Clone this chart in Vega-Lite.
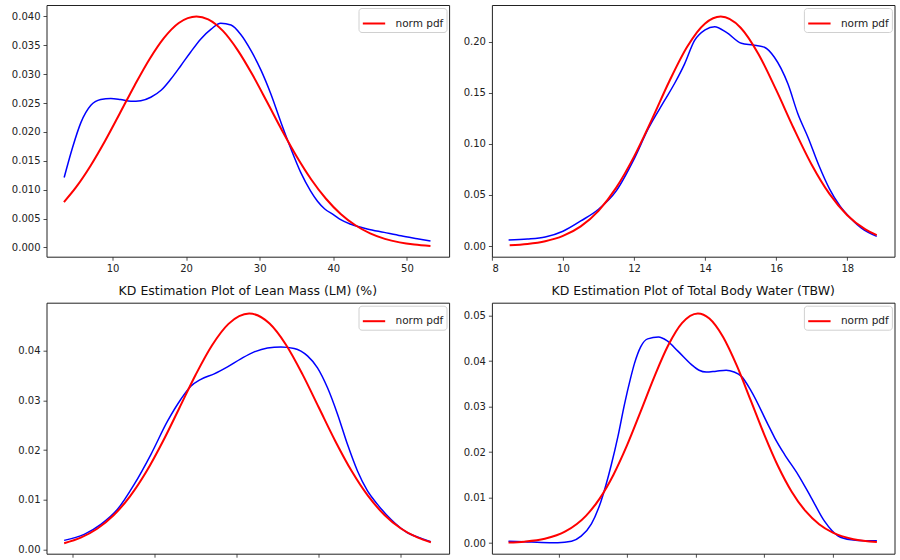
{
  "$schema": "https://vega.github.io/schema/vega-lite/v6.json",
  "padding": {"left": 10.5, "top": 4, "right": 0, "bottom": 0},
  "background": "white",
  "config": {
    "font": "DejaVu Sans",
    "view": {"stroke": "#222", "strokeWidth": 1},
    "axis": {
      "grid": false, "domain": false,
      "tickSize": 3.5, "tickColor": "#222", "tickWidth": 0.8,
      "labelFont": "DejaVu Sans", "labelFontSize": 10, "labelColor": "#222", "labelPadding": 3
    },
    "legend": {
      "orient": "top-right", "offset": 3, "padding": 3,
      "strokeColor": "#d0d0d0", "fillColor": "white", "cornerRadius": 3,
      "symbolType": "stroke", "symbolStrokeWidth": 2, "symbolSize": 500,
      "labelFont": "DejaVu Sans", "labelFontSize": 10.5, "labelColor": "#222", "labelOffset": 9
    },
    "title": {"font": "DejaVu Sans", "fontSize": 12.5, "fontWeight": "normal", "color": "#111", "offset": 5, "anchor": "middle"}
  },
  "datasets": {
    "tl_kde": [
      {"x": 3.43, "y": 0.0121}, {"x": 4.57, "y": 0.0173}, {"x": 5.7, "y": 0.0216}, {"x": 7.06, "y": 0.0246},
      {"x": 8.4, "y": 0.0256}, {"x": 9.77, "y": 0.0258}, {"x": 11.1, "y": 0.0256}, {"x": 12.5, "y": 0.0253},
      {"x": 13.85, "y": 0.0254}, {"x": 15.2, "y": 0.026}, {"x": 16.6, "y": 0.0272}, {"x": 17.9, "y": 0.0291},
      {"x": 19.3, "y": 0.0315}, {"x": 20.6, "y": 0.0338}, {"x": 22.0, "y": 0.0361}, {"x": 23.4, "y": 0.0378},
      {"x": 24.7, "y": 0.0388}, {"x": 26.1, "y": 0.0385}, {"x": 27.4, "y": 0.0369}, {"x": 28.8, "y": 0.0341},
      {"x": 30.2, "y": 0.0306}, {"x": 31.5, "y": 0.0266}, {"x": 32.9, "y": 0.0216}, {"x": 34.2, "y": 0.0172},
      {"x": 35.6, "y": 0.0129}, {"x": 36.9, "y": 0.0098}, {"x": 37.85, "y": 0.008}, {"x": 38.8, "y": 0.0067},
      {"x": 40.1, "y": 0.0056}, {"x": 41.0, "y": 0.0048}, {"x": 42.4, "y": 0.004}, {"x": 44.6, "y": 0.0032},
      {"x": 46.9, "y": 0.0026}, {"x": 49.2, "y": 0.002}, {"x": 51.4, "y": 0.0015}, {"x": 53.2, "y": 0.0011}
    ],
    "tl_norm": [
      {"x": 3.4, "y": 0.00785}, {"x": 5, "y": 0.01034}, {"x": 7, "y": 0.0141}, {"x": 9, "y": 0.01846},
      {"x": 11, "y": 0.02322}, {"x": 13, "y": 0.02805}, {"x": 15, "y": 0.03255}, {"x": 17, "y": 0.03629},
      {"x": 19, "y": 0.03886}, {"x": 21.4, "y": 0.04}, {"x": 23, "y": 0.03949}, {"x": 25, "y": 0.03748},
      {"x": 27, "y": 0.03416}, {"x": 29, "y": 0.02992}, {"x": 31, "y": 0.02516}, {"x": 33, "y": 0.02033},
      {"x": 35, "y": 0.01578}, {"x": 37, "y": 0.01176}, {"x": 39, "y": 0.00842}, {"x": 41, "y": 0.00579},
      {"x": 43, "y": 0.00383}, {"x": 45, "y": 0.00243}, {"x": 47, "y": 0.00148}, {"x": 49, "y": 0.00087},
      {"x": 51, "y": 0.00049}, {"x": 53.2, "y": 0.00025}
    ],
    "tr_kde": [
      {"x": 8.47, "y": 0.0059}, {"x": 9.0, "y": 0.0068}, {"x": 9.5, "y": 0.0088}, {"x": 10.0, "y": 0.0145},
      {"x": 10.5, "y": 0.0245}, {"x": 11.0, "y": 0.036}, {"x": 11.5, "y": 0.054}, {"x": 12.0, "y": 0.085},
      {"x": 12.4, "y": 0.1148}, {"x": 12.86, "y": 0.1424}, {"x": 13.14, "y": 0.159}, {"x": 13.42, "y": 0.178},
      {"x": 13.7, "y": 0.201}, {"x": 14.0, "y": 0.2115}, {"x": 14.27, "y": 0.2146}, {"x": 14.6, "y": 0.209},
      {"x": 15.02, "y": 0.1984}, {"x": 15.35, "y": 0.1967}, {"x": 15.67, "y": 0.1945}, {"x": 15.95, "y": 0.1847},
      {"x": 16.33, "y": 0.1587}, {"x": 16.61, "y": 0.1294}, {"x": 16.9, "y": 0.106}, {"x": 17.2, "y": 0.079},
      {"x": 17.5, "y": 0.056}, {"x": 17.8, "y": 0.039}, {"x": 18.1, "y": 0.027}, {"x": 18.4, "y": 0.0175},
      {"x": 18.83, "y": 0.0095}
    ],
    "tr_norm": [
      {"x": 8.5, "y": 0.00084}, {"x": 9, "y": 0.00207}, {"x": 9.5, "y": 0.00471}, {"x": 10, "y": 0.0099},
      {"x": 10.5, "y": 0.01922}, {"x": 11, "y": 0.03446}, {"x": 11.5, "y": 0.05716}, {"x": 12, "y": 0.08747},
      {"x": 12.5, "y": 0.1237}, {"x": 13, "y": 0.1617}, {"x": 13.5, "y": 0.1952}, {"x": 14, "y": 0.2177},
      {"x": 14.44, "y": 0.2245}, {"x": 15, "y": 0.2136}, {"x": 15.5, "y": 0.1879}, {"x": 16, "y": 0.1527},
      {"x": 16.5, "y": 0.1147}, {"x": 17, "y": 0.07956}, {"x": 17.5, "y": 0.05098}, {"x": 18, "y": 0.03019},
      {"x": 18.5, "y": 0.01652}, {"x": 18.83, "y": 0.01062}
    ],
    "bl_kde": [
      {"x": 48.98, "y": 0.00187}, {"x": 51.42, "y": 0.00308}, {"x": 53.45, "y": 0.00508}, {"x": 55.48, "y": 0.0081},
      {"x": 57.51, "y": 0.0131}, {"x": 59.54, "y": 0.0191}, {"x": 61.57, "y": 0.0258}, {"x": 63.2, "y": 0.0302},
      {"x": 64.41, "y": 0.0328}, {"x": 65.63, "y": 0.0342}, {"x": 67.26, "y": 0.0353}, {"x": 68.88, "y": 0.0367},
      {"x": 70.5, "y": 0.0383}, {"x": 72.13, "y": 0.0397}, {"x": 73.75, "y": 0.0405}, {"x": 75.38, "y": 0.0407},
      {"x": 77.0, "y": 0.0404}, {"x": 78.62, "y": 0.0389}, {"x": 79.84, "y": 0.0365}, {"x": 81.06, "y": 0.0325},
      {"x": 82.28, "y": 0.0272}, {"x": 83.5, "y": 0.0211}, {"x": 84.71, "y": 0.0158}, {"x": 85.93, "y": 0.0118},
      {"x": 87.15, "y": 0.0091}, {"x": 88.77, "y": 0.0061}, {"x": 90.8, "y": 0.0034}, {"x": 92.43, "y": 0.0023},
      {"x": 93.65, "y": 0.0016}
    ],
    "bl_norm": [
      {"x": 48.98, "y": 0.00131}, {"x": 51, "y": 0.00243}, {"x": 53, "y": 0.00421}, {"x": 55, "y": 0.00691},
      {"x": 57, "y": 0.0107}, {"x": 59, "y": 0.01568}, {"x": 61, "y": 0.02171}, {"x": 63, "y": 0.02839},
      {"x": 65, "y": 0.03511}, {"x": 67, "y": 0.04103}, {"x": 69, "y": 0.04532}, {"x": 71.52, "y": 0.0474},
      {"x": 74, "y": 0.04539}, {"x": 76, "y": 0.04114}, {"x": 78, "y": 0.03524}, {"x": 80, "y": 0.02853},
      {"x": 82, "y": 0.02183}, {"x": 84, "y": 0.01579}, {"x": 86, "y": 0.01079}, {"x": 88, "y": 0.00697},
      {"x": 90, "y": 0.00426}, {"x": 92, "y": 0.00246}, {"x": 93.65, "y": 0.0015}
    ],
    "br_kde": [
      {"x": 22.71, "y": 0.0004}, {"x": 25.0, "y": 0.0003}, {"x": 27.5, "y": 0.00012}, {"x": 29.9, "y": 0.00008},
      {"x": 31.9, "y": 0.0004}, {"x": 33.3, "y": 0.0015}, {"x": 34.8, "y": 0.0042}, {"x": 36.2, "y": 0.0092},
      {"x": 37.7, "y": 0.0172}, {"x": 38.66, "y": 0.0234}, {"x": 39.62, "y": 0.0305}, {"x": 40.5, "y": 0.0362},
      {"x": 41.08, "y": 0.0395}, {"x": 42.0, "y": 0.0432}, {"x": 43.0, "y": 0.0449}, {"x": 44.58, "y": 0.0453},
      {"x": 45.8, "y": 0.0445}, {"x": 47.41, "y": 0.0422}, {"x": 49.35, "y": 0.0393}, {"x": 50.5, "y": 0.038},
      {"x": 51.54, "y": 0.0376}, {"x": 53.0, "y": 0.0378}, {"x": 54.45, "y": 0.038}, {"x": 55.6, "y": 0.0376},
      {"x": 56.64, "y": 0.0367}, {"x": 58.1, "y": 0.0334}, {"x": 60.53, "y": 0.0261}, {"x": 61.5, "y": 0.0232},
      {"x": 62.95, "y": 0.0195}, {"x": 64.9, "y": 0.0151}, {"x": 66.84, "y": 0.0100}, {"x": 68.78, "y": 0.0048},
      {"x": 70.73, "y": 0.0016}, {"x": 72.67, "y": 0.0007}, {"x": 74.62, "y": 0.0005}, {"x": 76.42, "y": 0.0005}
    ],
    "br_norm": [
      {"x": 22.71, "y": 0.00011}, {"x": 25, "y": 0.0003}, {"x": 28, "y": 0.00093}, {"x": 31, "y": 0.00254},
      {"x": 34, "y": 0.00598}, {"x": 36, "y": 0.00977}, {"x": 38, "y": 0.01497}, {"x": 40, "y": 0.02151},
      {"x": 42, "y": 0.029}, {"x": 44, "y": 0.03667}, {"x": 46, "y": 0.04349}, {"x": 48, "y": 0.04837},
      {"x": 50.32, "y": 0.0505}, {"x": 52, "y": 0.04937}, {"x": 54, "y": 0.04531}, {"x": 56, "y": 0.039},
      {"x": 58, "y": 0.03148}, {"x": 60, "y": 0.02384}, {"x": 62, "y": 0.01693}, {"x": 64, "y": 0.01128},
      {"x": 66, "y": 0.00705}, {"x": 68, "y": 0.00413}, {"x": 70, "y": 0.00227}, {"x": 73, "y": 0.00082},
      {"x": 76.42, "y": 0.00022}
    ]
  },
  "columns": 2,
  "bounds": "flush",
  "spacing": {"row": 45.7, "column": 42.4},
  "resolve": {"scale": {"color": "independent"}, "legend": {"color": "independent"}},
  "concat": [
    {
      "width": 402.6, "height": 251.7,
      "encoding": {
        "x": {"field": "x", "type": "quantitative", "title": null,
              "scale": {"domain": [1.03, 55.73], "nice": false, "zero": false},
              "axis": {"values": [10, 20, 30, 40, 50], "format": "d"}},
        "y": {"field": "y", "type": "quantitative", "title": null,
              "scale": {"domain": [-0.00161, 0.04197], "nice": false, "zero": false},
              "axis": {"values": [0, 0.005, 0.01, 0.015, 0.02, 0.025, 0.03, 0.035, 0.04], "format": ".3f"}}
      },
      "layer": [
        {"data": {"name": "tl_kde"}, "mark": {"type": "line", "color": "#0000ff", "strokeWidth": 1.5, "interpolate": "monotone"}},
        {"data": {"name": "tl_norm"}, "mark": {"type": "line", "strokeWidth": 2, "interpolate": "monotone"},
         "encoding": {"color": {"datum": "norm pdf", "type": "nominal", "scale": {"domain": ["norm pdf"], "range": ["#ff0000"]}, "legend": {"title": null}}}}
      ]
    },
    {
      "width": 402.6, "height": 251.7,
      "encoding": {
        "x": {"field": "x", "type": "quantitative", "title": null,
              "scale": {"domain": [8, 19.33], "nice": false, "zero": false},
              "axis": {"values": [8, 10, 12, 14, 16, 18], "format": "d"}},
        "y": {"field": "y", "type": "quantitative", "title": null,
              "scale": {"domain": [-0.01044, 0.2358], "nice": false, "zero": false},
              "axis": {"values": [0, 0.05, 0.1, 0.15, 0.2], "format": ".2f"}}
      },
      "layer": [
        {"data": {"name": "tr_kde"}, "mark": {"type": "line", "color": "#0000ff", "strokeWidth": 1.5, "interpolate": "monotone"}},
        {"data": {"name": "tr_norm"}, "mark": {"type": "line", "strokeWidth": 2, "interpolate": "monotone"},
         "encoding": {"color": {"datum": "norm pdf", "type": "nominal", "scale": {"domain": ["norm pdf"], "range": ["#ff0000"]}, "legend": {"title": null}}}}
      ]
    },
    {
      "width": 402.6, "height": 251,
      "title": "KD Estimation Plot of Lean Mass (LM) (%)",
      "encoding": {
        "x": {"field": "x", "type": "quantitative", "title": null,
              "scale": {"domain": [46.83, 95.87], "nice": false, "zero": false},
              "axis": {"values": [50, 60, 70, 80, 90], "labels": false}},
        "y": {"field": "y", "type": "quantitative", "title": null,
              "scale": {"domain": [-0.0008, 0.04957], "nice": false, "zero": false},
              "axis": {"values": [0, 0.01, 0.02, 0.03, 0.04], "format": ".2f"}}
      },
      "layer": [
        {"data": {"name": "bl_kde"}, "mark": {"type": "line", "color": "#0000ff", "strokeWidth": 1.5, "interpolate": "monotone"}},
        {"data": {"name": "bl_norm"}, "mark": {"type": "line", "strokeWidth": 2, "interpolate": "monotone"},
         "encoding": {"color": {"datum": "norm pdf", "type": "nominal", "scale": {"domain": ["norm pdf"], "range": ["#ff0000"]}, "legend": {"title": null}}}}
      ]
    },
    {
      "width": 402.6, "height": 251,
      "title": "KD Estimation Plot of Total Body Water (TBW)",
      "encoding": {
        "x": {"field": "x", "type": "quantitative", "title": null,
              "scale": {"domain": [20.29, 78.99], "nice": false, "zero": false},
              "axis": {"values": [30, 40, 50, 60, 70], "labels": false}},
        "y": {"field": "y", "type": "quantitative", "title": null,
              "scale": {"domain": [-0.00235, 0.05285], "nice": false, "zero": false},
              "axis": {"values": [0, 0.01, 0.02, 0.03, 0.04, 0.05], "format": ".2f"}}
      },
      "layer": [
        {"data": {"name": "br_kde"}, "mark": {"type": "line", "color": "#0000ff", "strokeWidth": 1.5, "interpolate": "monotone"}},
        {"data": {"name": "br_norm"}, "mark": {"type": "line", "strokeWidth": 2, "interpolate": "monotone"},
         "encoding": {"color": {"datum": "norm pdf", "type": "nominal", "scale": {"domain": ["norm pdf"], "range": ["#ff0000"]}, "legend": {"title": null}}}}
      ]
    }
  ]
}
